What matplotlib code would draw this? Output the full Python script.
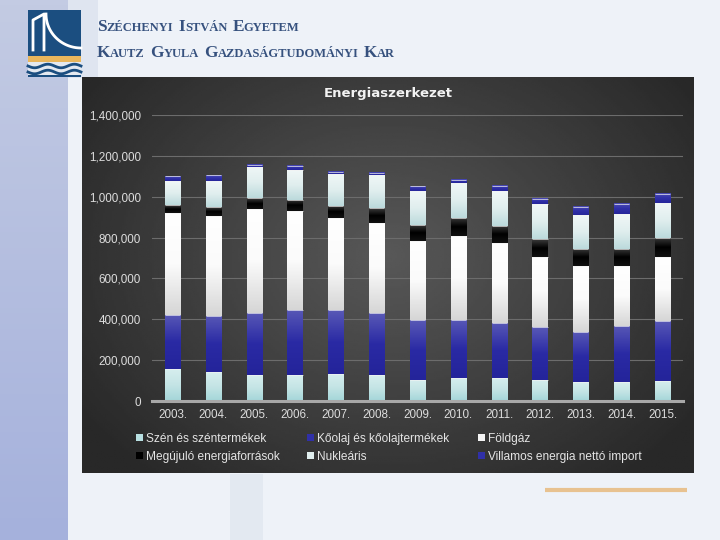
import matplotlib
matplotlib.use("Agg")
import matplotlib.pyplot as plt
import numpy as np
from matplotlib.colors import LinearSegmentedColormap
from matplotlib.patches import Rectangle

# Energiaszerkezet (TJ), values
years = ["2003.", "2004.", "2005.", "2006.", "2007.", "2008.", "2009.",
         "2010.", "2011.", "2012.", "2013.", "2014.", "2015."]
szen = [155000, 140000, 127000, 127000, 134000, 127000, 104000,
        111000, 111000, 104000, 93000, 93000, 98000]
koolaj = [266000, 276000, 304000, 320000, 313000, 303000, 292000,
          285000, 271000, 259000, 245000, 276000, 294000]
foldgaz = [498000, 490000, 511000, 483000, 449000, 441000, 385000,
           410000, 392000, 344000, 321000, 290000, 313000]
megujulo = [39000, 44000, 52000, 55000, 60000, 73000, 80000,
            91000, 85000, 85000, 86000, 87000, 95000]
nuklearis = [117000, 126000, 152000, 145000, 155000, 162000, 166000,
             170000, 168000, 170000, 165000, 168000, 168000]
villamos_import = [24000, 28000, 10000, 20000, 10000, 11000, 23000,
                   15000, 25000, 28000, 41000, 49000, 47000]

series = [
    ("Szén és széntermékek", szen, ["#a4d6d9", "#c4e4e5", "#d6eeee"], "#b8e0e2"),
    ("Kőolaj és kőolajtermékek", koolaj, ["#24249a", "#2a2aa4", "#5858b6"], "#3030a8"),
    ("Földgáz", foldgaz, ["#d6d6d6", "#fbfbfb", "#ffffff"], "#f4f4f4"),
    ("Megújuló energiaforrások", megujulo, ["#101010", "#000000", "#3c3c3c"], "#000000"),
    ("Nukleáris", nuklearis, ["#bcdadc", "#e0eeee", "#f0f7f7"], "#e0eeee"),
    ("Villamos energia nettó import", villamos_import, ["#26269a", "#3030a8", "#4c4cb4"], "#3030a8"),
]

plt.rcParams['font.family'] = ['Liberation Sans', 'DejaVu Sans']

fig = plt.figure(figsize=(7.2, 5.4), dpi=100, facecolor="#eef2f8")

# ---- slide background, pixel coordinates ----
bg = fig.add_axes([0, 0, 1, 1], zorder=-10)
bg.set_xlim(0, 720)
bg.set_ylim(540, 0)
bg.axis("off")
strip = np.linspace(0, 1, 100).reshape(-1, 1)
bg.imshow(strip, cmap=LinearSegmentedColormap.from_list("s", ["#c3cbe3", "#a5b1dc"]),
          extent=(0, 68, 540, 0), aspect="auto")
bg.add_patch(Rectangle((68, 0), 30, 78, color="#dfe5f0", lw=0))
bg.add_patch(Rectangle((230, 474), 33, 66, color="#e3e9f1", lw=0))
bg.plot([545, 687], [490, 490], color="#e8c290", lw=3, solid_capstyle="butt")

# logo
bg.add_patch(Rectangle((28, 10), 53, 46, color="#1b4e80", lw=0))
bg.add_patch(Rectangle((28, 56), 53, 21, color="#e4e9f0", lw=0))
bg.add_patch(Rectangle((28, 56), 53, 6, color="#e9b65c", lw=0))
bg.plot([33, 33, 44, 44], [50, 20, 14, 50], color="white", lw=2)
t = np.linspace(0, np.pi / 2, 40)
bg.plot(46 + 35 * (1 - np.cos(t)), 14 + 34 * np.sin(t), color="white", lw=2)
wx = np.linspace(28, 81, 80)
bg.plot(wx, 66 + 1.8 * np.sin((wx - 28) / 53 * 4 * np.pi), color="#1b4e80", lw=2)
bg.plot(wx, 72 + 1.8 * np.sin((wx - 28) / 53 * 4 * np.pi), color="#1b4e80", lw=2)
bg.add_patch(Rectangle((28, 74.5), 53, 2.5, color="#1b4e80", lw=0))

# header in small caps
renderer = fig.canvas.get_renderer()


def smallcaps(x, y, s, big=12.4, small=9.0):
    for word in s.split(" "):
        for part, size in ((word[0], big), (word[1:], small)):
            if not part:
                continue
            tx = bg.text(x, y, part, fontsize=size, family="Liberation Serif",
                         weight="bold", color="#36517e", va="baseline", ha="left")
            x += tx.get_window_extent(renderer).width
        x += 5


smallcaps(97, 31, "SZÉCHENYI ISTVÁN EGYETEM")
smallcaps(97, 57, "KAUTZ GYULA GAZDASÁGTUDOMÁNYI KAR")

# ---- dark chart area ----
cb = fig.add_axes([82 / 720, (540 - 473) / 540, (694 - 82) / 720, (473 - 77) / 540], zorder=-5)
cb.axis("off")
gy, gx = np.mgrid[0:1:200j, 0:1:300j]
d = np.sqrt(((gx - 0.5) / 0.62) ** 2 + ((gy - 0.45) / 0.75) ** 2)
shade = np.clip(0.345 - 0.19 * d, 0.16, 1)
cb.imshow(shade, cmap="gray", vmin=0, vmax=1, extent=(0, 1, 1, 0), aspect="auto")
cb.set_xlim(0, 1)
cb.set_ylim(1, 0)

# ---- main plot ----
ax = fig.add_axes([152 / 720, (540 - 401) / 540, (683 - 152) / 720, (401 - 115) / 540])
ax.set_facecolor("none")
x = np.arange(len(years))
width = 0.37
bottom = np.zeros(len(years))
grad = np.linspace(0, 1, 64).reshape(-1, 1)
handles = []
for name, vals, cols, solid in series:
    vals = np.array(vals, dtype=float)
    bars = ax.bar(x, vals, width, bottom=bottom, color=solid, lw=0, zorder=2, label=name)
    cmap = LinearSegmentedColormap.from_list(name, cols)
    for r in bars:
        ax.imshow(grad, cmap=cmap, origin="lower", aspect="auto", zorder=3,
                  extent=(r.get_x(), r.get_x() + r.get_width(), r.get_y(), r.get_y() + r.get_height()))
    ax.hlines(bottom + vals, x - width / 2, x + width / 2, color="#f2f2f2", lw=0.6, alpha=0.8, zorder=4)
    bottom = bottom + vals
    handles.append(bars)

ax.set_xlim(-0.5, len(years) - 0.5)
ax.set_ylim(0, 1400000)
ax.set_yticks(np.arange(0, 1400001, 200000))
ax.yaxis.set_major_formatter(matplotlib.ticker.FuncFormatter(lambda v, p: f"{int(v):,}"))
ax.set_xticks(x)
ax.set_xticklabels(years)
ax.yaxis.grid(True, color="#6c6c6c", lw=0.8)
ax.set_axisbelow(True)
for s in ["top", "right", "left"]:
    ax.spines[s].set_visible(False)
ax.spines["bottom"].set_color("#a8a8a8")
ax.spines["bottom"].set_linewidth(2.2)
ax.spines["bottom"].set_zorder(5)
ax.tick_params(axis="both", length=0, labelsize=8.4, labelcolor="#dcdcdc")
ax.tick_params(axis="y", pad=8)
ax.tick_params(axis="x", pad=6)

fig.text(388 / 720, 1 - 94 / 540, "Energiaszerkezet", ha="center", va="center",
         fontsize=9.5, weight="bold", color="#f2f2f2", family="DejaVu Sans")

# legend: three columns, two rows, row-major order
col_x = [136, 307, 478]
for i, cx in enumerate(col_x):
    leg = fig.legend(handles=[handles[i], handles[i + 3]],
                     labels=[series[i][0], series[i + 3][0]],
                     loc="center left", bbox_to_anchor=(cx / 720, 1 - 448 / 540),
                     frameon=False, fontsize=8.6, labelcolor="#e4e4e4",
                     handlelength=0.55, handleheight=0.55, handletextpad=0.3,
                     borderpad=0, borderaxespad=0, labelspacing=0.5)

fig.savefig("out.png", dpi=100, facecolor=fig.get_facecolor())
